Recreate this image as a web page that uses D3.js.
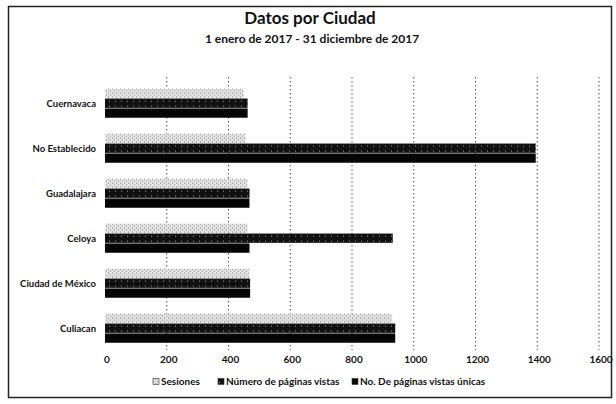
<!DOCTYPE html>
<html>
<head>
<meta charset="utf-8">
<script src="https://cdn.jsdelivr.net/npm/d3@7"></script>
<style>
  body { margin: 0; background: #fff; }
  svg text { font-family: Lato, "Open Sans", sans-serif; font-weight: bold; fill: #111; }
</style>
</head>
<body>
<div id="chart"></div>
<script>
"use strict";

// values
const cities = ["Cuernavaca", "No Establecido", "Guadalajara", "Celoya", "Ciudad de México", "Culiacan"];
const sesiones = [450, 455, 462, 462, 466, 930];
const paginasVistas = [462, 1395, 468, 932, 470, 940];
const paginasUnicas = [462, 1395, 468, 468, 470, 940];
const seriesNames = ["Sesiones", "Número de páginas vistas", "No. De páginas vistas únicas"];
const xTicks = [0, 200, 400, 600, 800, 1000, 1200, 1400, 1600];

const width = 616, height = 404;

const svg = d3.select("#chart")
  .append("svg")
  .attr("width", width)
  .attr("height", height);

// frame of the chart area
svg.append("rect")
  .attr("x", 8.5).attr("y", 6.5)
  .attr("width", 603).attr("height", 391)
  .attr("fill", "#fff")
  .attr("stroke", "#222")
  .attr("stroke-width", 1.5);

svg.append("text")
  .attr("x", 310).attr("y", 24)
  .attr("text-anchor", "middle")
  .style("font-size", "17px")
  .text("Datos por Ciudad");

svg.append("text")
  .attr("x", 312).attr("y", 43)
  .attr("text-anchor", "middle")
  .style("font-size", "12px")
  .text("1 enero de 2017 - 31 diciembre de 2017");

const x = d3.scaleLinear()
  .domain([0, 1600])
  .range([105, 599]);

const y = d3.scaleBand()
  .domain(cities)
  .range([81, 351])
  .paddingInner(0.34)
  .paddingOuter(0.17);

const ySub = d3.scaleBand()
  .domain(d3.range(3))
  .range([0, y.bandwidth()]);

// dotted gridlines
svg.append("g")
  .selectAll("line")
  .data(xTicks.slice(1))
  .enter()
  .append("line")
  .attr("x1", d => x(d)).attr("x2", d => x(d))
  .attr("y1", 77).attr("y2", 350)
  .attr("stroke", "#555")
  .attr("stroke-width", 1)
  .attr("stroke-dasharray", "1.5,2.5");

const defs = svg.append("defs");
// light speckled pattern for Sesiones
const pat = defs.append("pattern")
  .attr("id", "pSes")
  .attr("patternUnits", "userSpaceOnUse")
  .attr("width", 4).attr("height", 4);
pat.append("rect").attr("width", 4).attr("height", 4).attr("fill", "#e4e4e4");
pat.append("rect").attr("x", 0).attr("y", 0).attr("width", 1).attr("height", 1).attr("fill", "#777");
pat.append("rect").attr("x", 2).attr("y", 2).attr("width", 1).attr("height", 1).attr("fill", "#888");
// dark speckled pattern for Número de páginas vistas
const pat2 = defs.append("pattern")
  .attr("id", "pVis")
  .attr("patternUnits", "userSpaceOnUse")
  .attr("width", 6).attr("height", 5);
pat2.append("rect").attr("width", 6).attr("height", 5).attr("fill", "#111");
pat2.append("rect").attr("x", 1).attr("y", 2).attr("width", 1).attr("height", 1).attr("fill", "#999");

const fills = ["url(#pSes)", "url(#pVis)", "#050505"];
const seriesValues = [sesiones, paginasVistas, paginasUnicas];

const rows = cities.map((c, i) => ({
  city: c,
  vals: seriesValues.map(s => s[i])
}));

const groups = svg.append("g")
  .selectAll("g")
  .data(rows)
  .enter()
  .append("g")
  .attr("transform", d => `translate(0,${y(d.city)})`);

groups.selectAll("rect")
  .data(d => d.vals)
  .enter()
  .append("rect")
  .attr("x", x(0))
  .attr("y", (d, i) => ySub(i))
  .attr("width", d => x(d) - x(0))
  .attr("height", ySub.bandwidth() - 0.6)
  .attr("fill", (d, i) => fills[i]);

// category labels
svg.append("g")
  .selectAll("text")
  .data(cities)
  .enter()
  .append("text")
  .attr("x", 96)
  .attr("y", d => y(d) + y.bandwidth() / 2 + 3)
  .attr("text-anchor", "end")
  .style("font-size", "9.5px")
  .text(d => d);

// x axis labels
svg.append("g")
  .selectAll("text")
  .data(xTicks)
  .enter()
  .append("text")
  .attr("x", d => x(d) + 2)
  .attr("y", 363)
  .attr("text-anchor", "middle")
  .style("font-size", "10px")
  .text(d => d);

// legend
const legendX = [153, 218, 352];
const legend = svg.append("g")
  .selectAll("g")
  .data(seriesNames)
  .enter()
  .append("g")
  .attr("transform", (d, i) => `translate(${legendX[i]},385)`);

legend.append("rect")
  .attr("x", 0).attr("y", -6.5)
  .attr("width", 6).attr("height", 6)
  .attr("fill", (d, i) => fills[i])
  .attr("stroke", "#333")
  .attr("stroke-width", 0.6);

legend.append("text")
  .attr("x", 8).attr("y", 0)
  .style("font-size", "10px")
  .text(d => d);
</script>
</body>
</html>
